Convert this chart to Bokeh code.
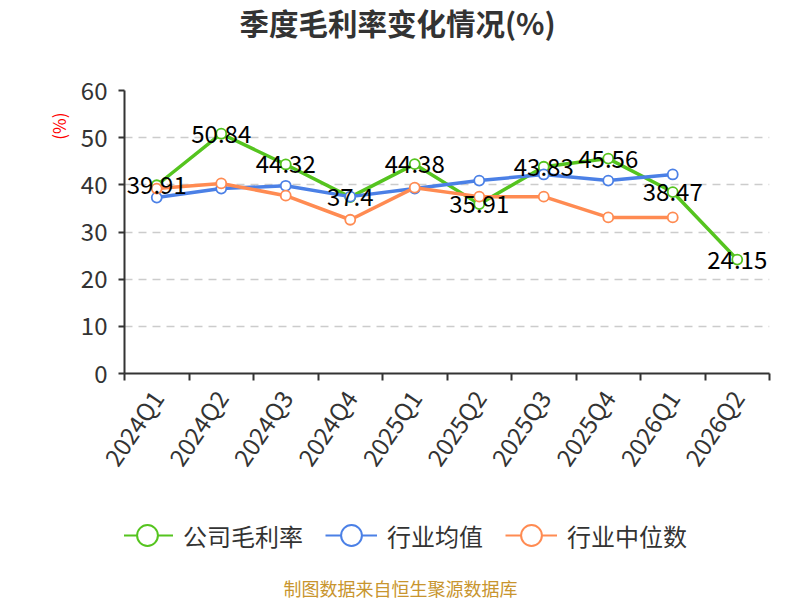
import math
from bokeh.plotting import figure
from bokeh.layouts import column
from bokeh.models import (ColumnDataSource, Range1d, FixedTicker, Legend, LegendItem, Title, Label)
from bokeh.core.properties import value
from bokeh.embed import file_html
from bokeh.resources import INLINE

# ---- data ----
quarters = ["2024Q1", "2024Q2", "2024Q3", "2024Q4", "2025Q1", "2025Q2",
            "2025Q3", "2025Q4", "2026Q1", "2026Q2"]
company_margin = [39.91, 50.84, 44.32, 37.4, 44.38, 35.91, 43.83, 45.56, 38.47, 24.15]
industry_mean = [37.3, 39.2, 39.8, 37.5, 39.2, 40.9, 42.2, 40.9, 42.2]
industry_median = [39.2, 40.3, 37.7, 32.6, 39.4, 37.5, 37.5, 33.1, 33.1]
series_names = ["公司毛利率", "行业均值", "行业中位数"]
y_ticks = [0, 10, 20, 30, 40, 50, 60]
title_text = "季度毛利率变化情况(%)"
y_unit = "(%)"
footer_text = "制图数据来自恒生聚源数据库"

GREEN = "#55c41f"
BLUE = "#4b80e6"
ORANGE = "#ff8b52"
FONT = "Noto Sans CJK SC"
W = 800
H_TOP, H_MAIN, H_BOT = 60, 440, 100

def bare(height):
    f = figure(width=W, height=height, output_backend="svg", toolbar_location=None,
               x_axis_location=None, y_axis_location=None, title_location=None,
               x_range=Range1d(-20, -10), y_range=Range1d(-20, -10),
               min_border=0)
    f.outline_line_color = None
    f.grid.visible = False
    f.background_fill_color = "white"
    f.border_fill_color = "white"
    return f

# ---- title strip (frame is aligned with the main chart's frame, left edge at 124px) ----
top = bare(H_TOP)
top.add_layout(Label(x=273, y=39, x_units="screen", y_units="screen", text=title_text,
                     text_align="center", text_baseline="middle", text_font=FONT,
                     text_font_size="29.5px", text_font_style="bold", text_color="#333333"))

# ---- main chart ----
p = figure(width=W, height=H_MAIN, output_backend="svg", toolbar_location=None,
           title_location=None,
           x_range=Range1d(-0.5, len(quarters) - 0.5), y_range=Range1d(0, 60),
           min_border_left=124, min_border_right=31, min_border_top=30, min_border_bottom=127)
p.outline_line_color = None
p.background_fill_color = "white"
p.border_fill_color = "white"

xi = list(range(len(quarters)))
p.xaxis.ticker = FixedTicker(ticks=xi, minor_ticks=[i - 0.5 for i in range(len(quarters) + 1)])
p.xaxis.major_label_overrides = {i: q for i, q in enumerate(quarters)}
p.xaxis.major_tick_out = 0
p.xaxis.major_tick_in = 0
p.xaxis.minor_tick_out = 7
p.xaxis.minor_tick_in = 0
p.xaxis.minor_tick_line_color = "#333333"
p.xaxis.minor_tick_line_width = 2
p.xaxis.axis_line_color = "#333333"
p.xaxis.axis_line_width = 2
p.xaxis.major_label_orientation = math.radians(56)
p.xaxis.major_label_text_font = FONT
p.xaxis.major_label_text_font_size = "24px"
p.xaxis.major_label_text_color = "#333333"
p.xaxis.major_label_standoff = 12

p.yaxis.ticker = FixedTicker(ticks=y_ticks)
p.yaxis.minor_tick_line_color = None
p.yaxis.major_tick_out = 6
p.yaxis.major_tick_in = 0
p.yaxis.major_tick_line_color = "#333333"
p.yaxis.major_tick_line_width = 2
p.yaxis.axis_line_color = "#333333"
p.yaxis.axis_line_width = 2
p.yaxis.major_label_text_font = FONT
p.yaxis.major_label_text_font_size = "24px"
p.yaxis.major_label_text_color = "#333333"
p.yaxis.major_label_standoff = 11

p.xgrid.grid_line_color = None
p.ygrid.grid_line_color = "#cccccc"
p.ygrid.grid_line_width = 1.5
p.ygrid.grid_line_dash = "8 6"

unit = Title(text=y_unit, align="right", text_font=FONT, text_font_size="17px",
             text_font_style="normal", text_color="#ff0000", offset=22, standoff=13)
p.add_layout(unit, "left")

series = [company_margin, industry_mean, industry_median]
colors = [GREEN, BLUE, ORANGE]
for vals, color in zip(series, colors):
    src = ColumnDataSource(dict(x=xi[:len(vals)], y=vals))
    p.line("x", "y", source=src, line_color=color, line_width=3.5)
    p.scatter("x", "y", source=src, size=10, fill_color="white", line_color=color, line_width=1.8)

lab_src = ColumnDataSource(dict(x=xi, y=company_margin, t=[f"{v:g}" for v in company_margin]))
p.text("x", "y", text="t", source=lab_src, text_align="center", text_baseline="middle",
       text_font=value(FONT), text_font_size="24px", text_color="#000000")

# ---- legend + footer strip (same series, drawn outside its visible range) ----
bot = bare(H_BOT)
items = []
for vals, color, name in zip(series, colors, series_names):
    src = ColumnDataSource(dict(x=xi[:len(vals)], y=vals))
    r1 = bot.line("x", "y", source=src, line_color=color, line_width=2)
    r2 = bot.scatter("x", "y", source=src, fill_color="white", line_color=color, line_width=2)
    items.append(LegendItem(label=name, renderers=[r1, r2]))
legend = Legend(items=items, orientation="horizontal", location=(-3, 37),
                glyph_width=52, glyph_height=56, label_standoff=10, spacing=22,
                padding=0, margin=0, border_line_color=None, background_fill_alpha=0,
                label_text_font=FONT, label_text_font_size="24px", label_text_color="#333333")
bot.add_layout(legend, "center")
bot.add_layout(Label(x=276, y=13, x_units="screen", y_units="screen", text=footer_text,
                     text_align="center", text_baseline="middle", text_font=FONT,
                     text_font_size="18px", text_color="#c8952e"))

page = column(top, p, bot, spacing=0)
open("out.html", "w").write(file_html(page, INLINE))
